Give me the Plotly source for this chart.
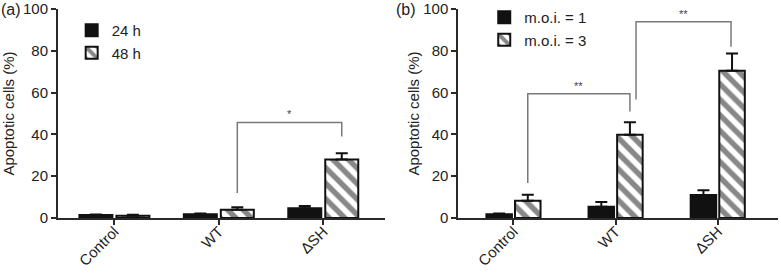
import plotly.graph_objects as go

categories = ["Control", "WT", "ΔSH"]

# Panel (a)
a_24h = [1.4, 1.8, 4.7]
a_24h_err = [0.3, 0.4, 1.1]
a_48h = [1.1, 3.9, 28.0]
a_48h_err = [0.5, 1.2, 3.0]

# Panel (b)
b_m1 = [1.8, 5.4, 11.0]
b_m1_err = [0.3, 2.3, 2.3]
b_m3 = [8.2, 39.8, 70.5]
b_m3_err = [2.9, 6.0, 8.2]

# significance brackets: (x_left, x_right, y_top, y_left_end, y_right_end, label)
brackets_a = [(1.177, 2.177, 45.7, 12.0, 39.0, "*")]
brackets_b = [(0.14, 1.14, 59.5, 16.8, 51.0, "**"),
              (1.20, 2.13, 93.9, 56.7, 81.9, "**")]

FONT = "Arial, Liberation Sans, Helvetica, sans-serif"
AX = "#2a2a2a"
TXT = "#222222"
xs = [0, 1, 2]

fig = go.Figure()

def add_bar(x, y, err, name, xa, ya, offset, width, striped, legend):
    marker = dict(color="#111111", line=dict(color="#111111", width=2))
    if striped:
        marker = dict(color="white", line=dict(color="#111111", width=2),
                      pattern=dict(shape="\\", fgcolor="#111111", bgcolor="white",
                                   size=11, solidity=0.5, fillmode="overlay"))
    fig.add_trace(go.Bar(
        x=x, y=y, name=name, xaxis=xa, yaxis=ya, offset=offset, width=width,
        marker=marker, legend=legend,
        error_y=dict(type="data", array=err, arrayminus=[0]*len(err), symmetric=False,
                     color="#111111", thickness=2, width=6),
    ))

wa = 0.316
add_bar(xs, a_24h, a_24h_err, "24 h", "x", "y", -0.335, wa, False, "legend")
add_bar(xs, a_48h, a_48h_err, "48 h", "x", "y", 0.019, wa, True, "legend")
wb = 0.25
add_bar(xs, b_m1, b_m1_err, "m.o.i. = 1", "x2", "y2", -0.265, wb, False, "legend2")
add_bar(xs, b_m3, b_m3_err, "m.o.i. = 3", "x2", "y2", 0.015, wb, True, "legend2")

shapes = []
annotations = []
for brs, xr, yr in [(brackets_a, "x", "y"), (brackets_b, "x2", "y2")]:
    for (x0, x1, yt, yl, yrr, lab) in brs:
        path = f"M {x0},{yl} L {x0},{yt} L {x1},{yt} L {x1},{yrr}"
        shapes.append(dict(type="path", path=path, xref=xr, yref=yr,
                           line=dict(color="#7a7a7a", width=1.5)))
        annotations.append(dict(x=(x0 + x1) / 2, y=yt, xref=xr, yref=yr, text=lab,
                                showarrow=False, yanchor="bottom", yshift=0,
                                font=dict(family=FONT, size=11, color="#444444")))

annotations.append(dict(x=0, y=1.0, xref="paper", yref="paper", text="(a)", showarrow=False,
                        xanchor="left", yanchor="middle", xshift=-59,
                        font=dict(family=FONT, size=16, color=TXT)))
annotations.append(dict(x=0.556, y=1.0, xref="paper", yref="paper", text="(b)", showarrow=False,
                        xanchor="left", yanchor="middle", xshift=-64,
                        font=dict(family=FONT, size=16, color=TXT)))

xaxis_common = dict(tickmode="array", tickvals=xs, ticktext=categories, tickangle=-45,
                    showline=True, linecolor=AX, linewidth=2, ticks="outside",
                    ticklen=5, tickwidth=2, tickcolor=AX, showgrid=False, zeroline=False,
                    ticklabelstandoff=-8, automargin=False,
                    range=[-0.54, 2.59], tickfont=dict(family=FONT, size=15, color=TXT))

def yaxis_common(standoff):
    return dict(range=[0, 100], tickvals=[0, 20, 40, 60, 80, 100], showline=True,
                linecolor=AX, linewidth=2, ticks="outside", ticklen=5, tickwidth=2,
                tickcolor=AX, showgrid=False, zeroline=False, automargin=False,
                tickfont=dict(family=FONT, size=15, color=TXT),
                title=dict(text="Apoptotic cells (%)", standoff=standoff,
                           font=dict(family=FONT, size=15, color=TXT)))

fig.update_layout(
    width=781, height=277,
    margin=dict(l=58, r=3, t=9, b=59, autoexpand=False),
    paper_bgcolor="white", plot_bgcolor="white",
    barmode="overlay",
    showlegend=True,
    xaxis=dict(domain=[0, 0.454], anchor="y", **xaxis_common),
    yaxis=dict(domain=[0, 1], anchor="x", **yaxis_common(12)),
    xaxis2=dict(domain=[0.556, 1.0], anchor="y2", **xaxis_common),
    yaxis2=dict(domain=[0, 1], anchor="x2", **yaxis_common(0)),
    legend=dict(x=0.019, y=0.976, xanchor="left", yanchor="top", bgcolor="rgba(0,0,0,0)",
                font=dict(family=FONT, size=15, color=TXT), traceorder="normal"),
    legend2=dict(x=0.592, y=1.038, xanchor="left", yanchor="top", bgcolor="rgba(0,0,0,0)",
                 font=dict(family=FONT, size=15, color=TXT), traceorder="normal"),
    shapes=shapes,
    annotations=annotations,
)

fig.write_html("out.html", config={"displayModeBar": False},
               post_script="document.body.style.margin='0';document.body.style.padding='0';")
